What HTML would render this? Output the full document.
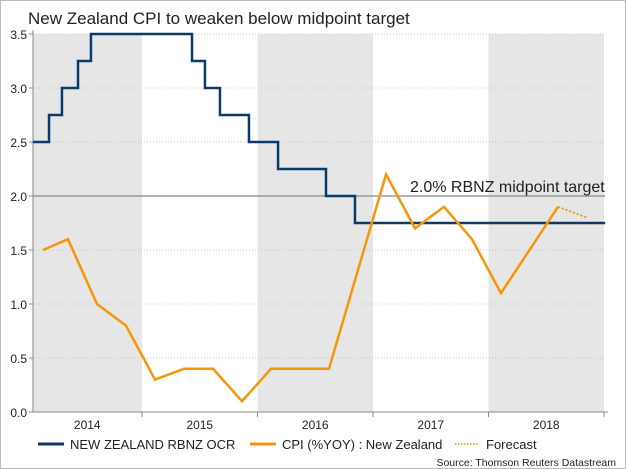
<!DOCTYPE html>
<html><head><meta charset="utf-8"><style>
body{margin:0;background:#fff;}
svg{display:block;font-family:"Liberation Sans",Arial,sans-serif;}
</style></head><body>
<svg id="chart" width="626" height="469">
<rect x="0.5" y="0.5" width="625" height="468" fill="#fff" stroke="#bbb"/>
<text x="28" y="24" font-size="17" fill="#222">New Zealand CPI to weaken below midpoint target</text>
<g id="bands"></g><g id="grid"></g><g id="axes"></g><g id="series"></g>
<text x="410" y="192" font-size="16" fill="#222">2.0% RBNZ midpoint target</text>
<g>
<line x1="38" y1="444" x2="64" y2="444" stroke="#0b3a6b" stroke-width="3"/>
<text x="70" y="449" font-size="13" fill="#222">NEW ZEALAND RBNZ OCR</text>
<line x1="250" y1="444" x2="276" y2="444" stroke="#f5960a" stroke-width="3"/>
<text x="282" y="449" font-size="13" fill="#222">CPI (%YOY) : New Zealand</text>
<line x1="455" y1="444" x2="478" y2="444" stroke="#f5960a" stroke-width="1.5" stroke-dasharray="1.5,1.5"/>
<text x="486" y="449" font-size="13" fill="#222">Forecast</text>
</g>
<text x="616" y="466" font-size="10.5" fill="#222" text-anchor="end">Source: Thomson Reuters Datastream</text>
</svg>
<script>
const yearLabels=[2014,2015,2016,2017,2018];
const yTicks=[0,0.5,1,1.5,2,2.5,3,3.5];
const ocrDates=[2014.056,2014.195,2014.307,2014.446,2014.558,2015.433,2015.545,2015.675,2015.926,2016.178,2016.593,2016.844,2019.01];
const ocrValues=[2.5,2.75,3.0,3.25,3.5,3.25,3.0,2.75,2.5,2.25,2.0,1.75,1.75];
const cpiDates=[2014.143,2014.359,2014.610,2014.861,2015.113,2015.364,2015.615,2015.866,2016.117,2016.368,2016.619,2017.113,2017.364,2017.615,2017.857,2018.108,2018.602];
const cpiValues=[1.5,1.6,1.0,0.8,0.3,0.4,0.4,0.1,0.4,0.4,0.4,2.2,1.7,1.9,1.6,1.1,1.9];
const fcDates=[2018.602,2018.853];
const fcValues=[1.9,1.8];
const targetValue=2.0;
const X0=33,X1=605,Y0=412;
const sx=t=>142+(t-2015)*115.5;
const sy=v=>Y0-v*108;
const NS="http://www.w3.org/2000/svg";
function mk(tag,attrs,parent){const e=document.createElementNS(NS,tag);for(const k in attrs)e.setAttribute(k,attrs[k]);document.getElementById(parent).appendChild(e);return e;}
yearLabels.forEach((y,i)=>{
  const a=Math.max(X0,sx(y)),b=Math.min(X1,sx(y+1));
  if(i%2===0){const r=mk('rect',{x:a,y:sy(3.5),width:b-a,height:Y0-sy(3.5),fill:'#e6e6e6'},'bands');
  
  }
  const t=mk('text',{x:(sx(y)+sx(y+1))/2+(i===0?3:0),y:429,'font-size':12,fill:'#222','text-anchor':'middle'},'axes');t.textContent=y;
  
  
  if(y>2014){const l=mk('line',{x1:sx(y),x2:sx(y),y1:Y0,y2:Y0+5,stroke:'#888'},'axes');
  
  }
});
const lastTick=mk('line',{x1:sx(2019),x2:sx(2019),y1:Y0,y2:Y0+5,stroke:'#888'},'axes');


yTicks.forEach(v=>{
  if(v>0){const g=mk('line',{x1:X0,x2:X1,y1:sy(v),y2:sy(v),stroke:'#c8c8c8','stroke-dasharray':'1,2'},'grid');
  
  }
  const t=mk('text',{x:27,y:sy(v)+5,'font-size':12,fill:'#222','text-anchor':'end'},'axes');t.textContent=v.toFixed(1);
  
  
  const m=mk('line',{x1:X0-4,x2:X0,y1:sy(v),y2:sy(v),stroke:'#888'},'axes');
  
  
});
const tl=mk('line',{x1:X0,x2:X1,y1:sy(targetValue),y2:sy(targetValue),stroke:'#888','stroke-width':1.2},'grid');


const ya=mk('line',{x1:X0,x2:X0,y1:sy(3.5)-4,y2:Y0,stroke:'#888'},'axes');


const xa=mk('line',{x1:X0,x2:X1+3,y1:Y0,y2:Y0,stroke:'#888'},'axes');


let d='M'+sx(ocrDates[0])+','+sy(ocrValues[0]);
for(let i=1;i<ocrDates.length;i++){d+=' H'+sx(ocrDates[i])+' V'+sy(ocrValues[i]);}
const ocr=mk('path',{d:d,fill:'none',stroke:'#0b3a6b','stroke-width':2.5},'series');


const cpi=mk('polyline',{points:cpiDates.map((t,i)=>sx(t)+','+sy(cpiValues[i])).join(' '),fill:'none',stroke:'#f5960a','stroke-width':2.5,'stroke-linejoin':'miter'},'series');


const fc=mk('polyline',{points:fcDates.map((t,i)=>sx(t)+','+sy(fcValues[i])).join(' '),fill:'none',stroke:'#f5960a','stroke-width':2,'stroke-dasharray':'2,2'},'series');


</script>
</body></html>
